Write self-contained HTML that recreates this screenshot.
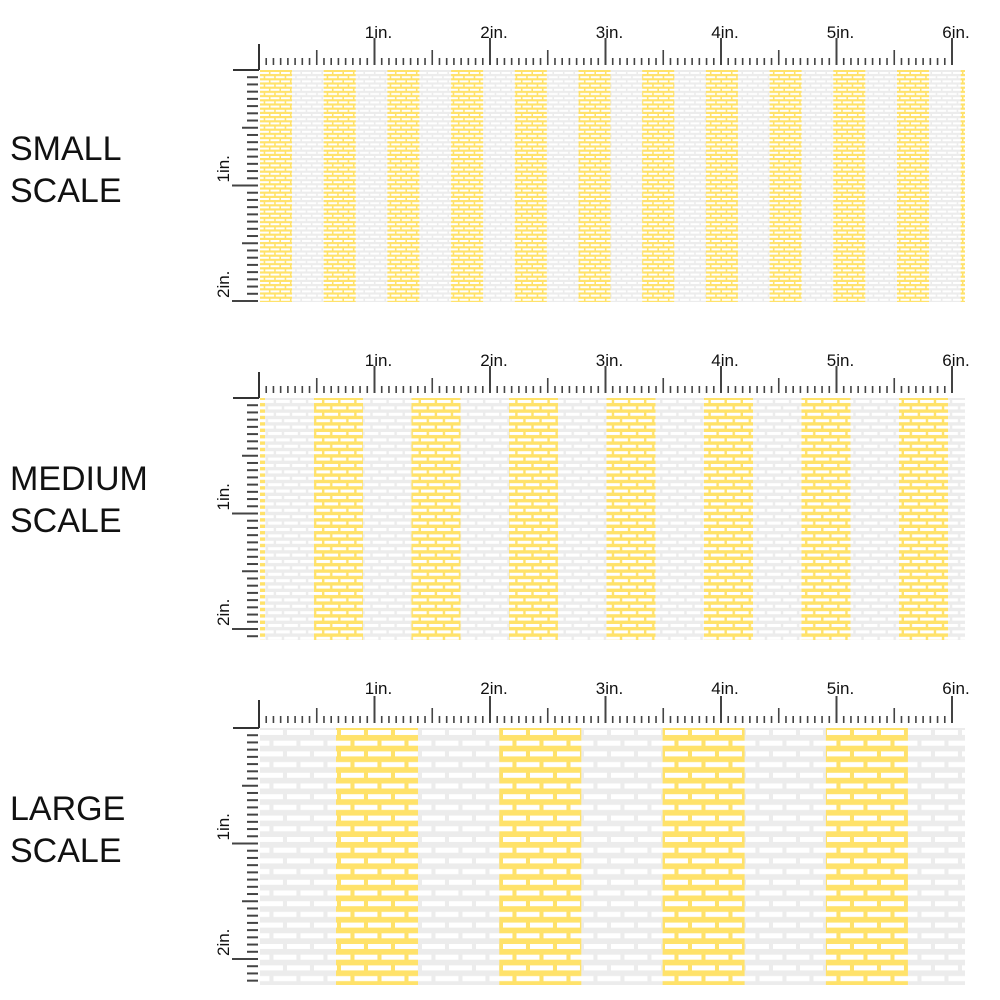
<!DOCTYPE html>
<html><head><style>
body{margin:0;background:#fff;width:1000px;height:1000px;overflow:hidden;font-family:"Liberation Sans",sans-serif}
.lab{position:absolute;left:10px;font-size:34px;line-height:42px;color:#111}
svg{position:absolute;left:0;top:0}
</style></head><body>
<div class="lab" style="top:128px">SMALL<br>SCALE</div>
<div class="lab" style="top:458px">MEDIUM<br>SCALE</div>
<div class="lab" style="top:788px">LARGE<br>SCALE</div>
<svg id="s" width="1000" height="1000" xmlns="http://www.w3.org/2000/svg"></svg>
<script>
const s=document.getElementById('s');let h='<defs>';
const panels=[
 {top:44,pt:70,pb:302,per:63.7,yw:32,ys:260,W:10.5,H:4.2,bh:2},
 {top:372,pt:398,pb:640,per:97.5,yw:49,ys:314,W:16.1,H:6.4,bh:3},
 {top:700,pt:728,pb:985,per:163.3,yw:82,ys:336,W:27,H:10.7,bh:5}];
panels.forEach((p,i)=>{
 h+=`<pattern id="b${i}" x="260" y="${p.pt+2}" width="${p.W}" height="${2*p.H}" patternUnits="userSpaceOnUse"><rect x="0" y="0" width="${p.W*0.85}" height="${p.bh}" fill="#fff"/><rect x="${p.W/2}" y="${p.H}" width="${p.W*0.85}" height="${p.bh}" fill="#fff"/><rect x="${p.W/2-p.W}" y="${p.H}" width="${p.W*0.85}" height="${p.bh}" fill="#fff"/></pattern>`;
});
h+='</defs>';
panels.forEach((p,i)=>{
 h+=`<rect x="260" y="${p.pt}" width="705" height="${p.pb-p.pt}" fill="#ececec"/>`;
 if(i==1)h+=`<rect x="260" y="${p.pt}" width="5" height="${p.pb-p.pt}" fill="#ffe26a"/>`;
 for(let x=p.ys;x<965;x+=p.per){h+=`<rect x="${x}" y="${p.pt}" width="${Math.min(p.yw,965-x)}" height="${p.pb-p.pt}" fill="#ffe26a"/>`;}
 h+=`<rect x="260" y="${p.pt}" width="705" height="${p.pb-p.pt}" fill="url(#b${i})"/>`;
 const by=p.pt-5;
 h+=`<line x1="233" y1="${p.pt}" x2="259" y2="${p.pt}" stroke="#333" stroke-width="2"/>`;
 h+=`<line x1="259" y1="${p.top}" x2="259" y2="${p.pt}" stroke="#333" stroke-width="2"/>`;
 for(let k=1;k<=96;k++){const x=259+k*115.5/16;const L=k%16==0?27:(k%8==0?15:7);
  h+=`<line x1="${x}" y1="${by-L}" x2="${x}" y2="${by}" stroke="#444" stroke-width="${k%16==0?2:1.6}"/>`;
  if(k%16==0)h+=`<text x="${x+4}" y="${p.top-6}" font-size="17" text-anchor="middle" fill="#111">${k/16}in.</text>`;}
 for(let k=1;k*115.5/16<p.pb-p.pt;k++){const y=p.pt+k*115.5/16;const L=k%16==0?26:(k%8==0?16:11);
  h+=`<line x1="${258-L}" y1="${y}" x2="258" y2="${y}" stroke="#444" stroke-width="2"/>`;
  if(k%16==0)h+=`<text transform="translate(${229},${y-3}) rotate(-90)" font-size="17" fill="#111">${k/16}in.</text>`;}
});
s.innerHTML=h;
</script>
</body></html>
